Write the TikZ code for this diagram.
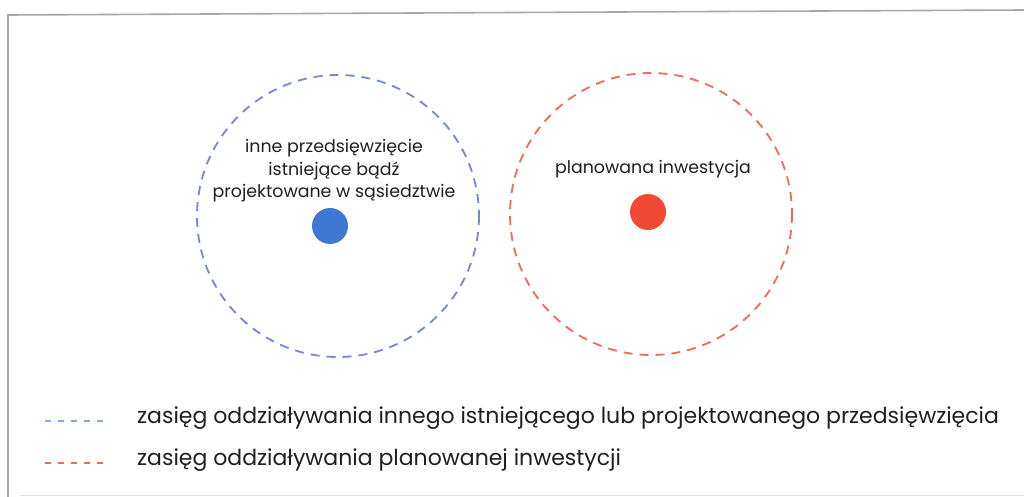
\documentclass[tikz,border=0pt]{standalone}
\usepackage{fontspec}
\setmainfont{Poppins}
\definecolor{bluedash}{HTML}{7288CF}
\definecolor{bluedot}{HTML}{3F78D2}
\definecolor{reddash}{HTML}{F2685A}
\definecolor{reddot}{HTML}{F24A32}
\definecolor{legblue}{HTML}{8AA6E2}
\definecolor{frame}{HTML}{A8A8A8}
\tikzset{
  zone/.style={line width=1.8pt, dash pattern=on 9pt off 7pt},
  legdash/.style={line width=2pt, dash pattern=on 6pt off 7pt},
  dot/.style={circle, inner sep=0pt, minimum size=36pt},
  lbl/.style={align=center, font=\fontsize{17.4}{22.5}\selectfont, text=black!88},
  legtxt/.style={anchor=west, font=\fontsize{22}{24}\selectfont, text=black!88, inner sep=0pt}
}
\begin{document}
\begin{tikzpicture}[x=1pt,y=-1pt]
\useasboundingbox (0,0) rectangle (1024,497);
% frame
\coordinate (ftl) at (8,15);
\coordinate (ftr) at (1024,10);
\coordinate (fbl) at (8,497);
\coordinate (bl) at (20,495);
\coordinate (br) at (1024,495);
\draw[frame, line width=1.6pt] (fbl) -- (ftl) -- (ftr);
\draw[black!12, line width=1pt] (bl) -- (br);
% blue zone
\node[dot, fill=bluedot] (bd) at (330,226) {};
\draw[zone, bluedash] (338,216) circle (141);
\node[lbl] (bt) at (334,171) {inne przedsięwzięcie\\istniejące bądź\\projektowane w sąsiedztwie};
% red zone
\node[dot, fill=reddot] (rd) at (648,212) {};
\draw[zone, reddash] (651,214) circle (141);
\node[lbl] (rt) at (653,169) {planowana inwestycja};
% legend
\coordinate (lb1) at (45,421);
\coordinate (lb2) at (108,421);
\coordinate (lr1) at (45,463);
\coordinate (lr2) at (108,463);
\draw[legdash, legblue] (lb1) -- (lb2);
\draw[legdash, reddash] (lr1) -- (lr2);
\node[legtxt] (t1) at (137,418) {zasięg oddziaływania innego istniejącego lub projektowanego przedsięwzięcia};
\node[legtxt] (t2) at (137,460) {zasięg oddziaływania planowanej inwestycji};
\end{tikzpicture}
\end{document}
